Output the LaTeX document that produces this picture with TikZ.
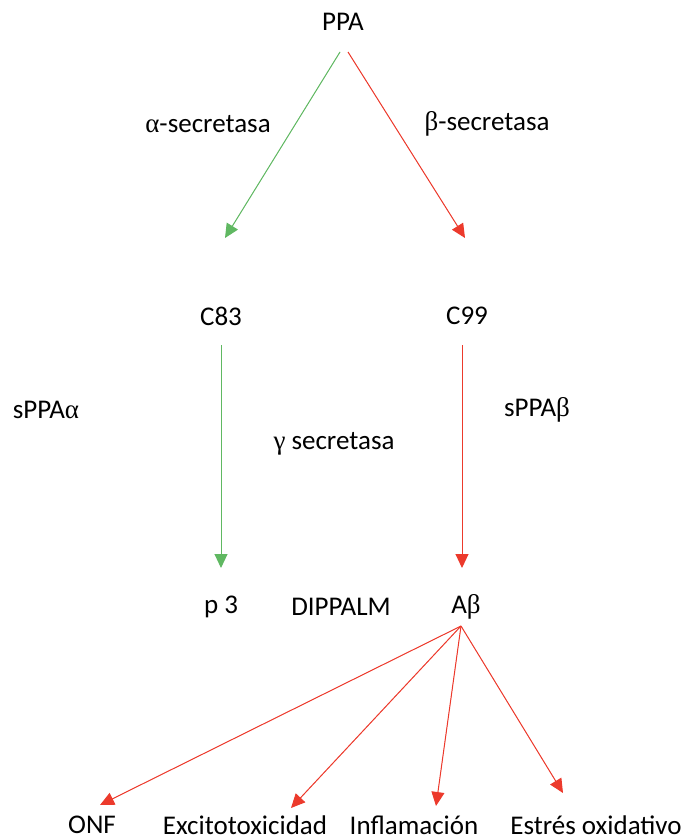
\documentclass[tikz,border=0pt]{standalone}
\usepackage{fontspec}
\setmainfont{Carlito}
\newfontfamily\grk{Liberation Serif}
\usetikzlibrary{arrows.meta}
\definecolor{pathgreen}{RGB}{96,184,98}
\definecolor{pathred}{RGB}{236,58,44}
\newcommand{\galpha}{{\grk α}}
\newcommand{\gbeta}{{\grk β}}
\newcommand{\ggamma}{{\grk γ}}
\tikzset{
  lbl/.style={inner sep=0pt, font=\fontsize{13.5}{16}\selectfont},
  grnarrow/.style={draw=pathgreen, line width=0.5pt, -{Triangle[length=7pt,width=6.5pt]}, fill=pathgreen},
  redarrow/.style={draw=pathred, line width=0.5pt, -{Triangle[length=7pt,width=6.5pt]}, fill=pathred}
}
\begin{document}
\begin{tikzpicture}[x=0.5pt,y=-0.5pt]
            \useasboundingbox (0,0) rectangle (684,840);
            \node[lbl] (ppa) at (343,22){PPA};
            \node[lbl] (asec) at (208,124){\galpha-secretasa};
            \node[lbl] (bsec) at (487,124){\gbeta-secretasa};
            \node[lbl] (c83) at (221,316){C83};
            \node[lbl] (c99) at (467,316){C99};
            \node[lbl] (sppaa) at (46,410){sPPA\galpha};
            \node[lbl] (sppab) at (537,410){sPPA\gbeta};
            \node[lbl] (gsec) at (334,444){\ggamma{} secretasa};
            \node[lbl] (p3) at (221,607){p 3};
            \node[lbl] (dippalm) at (341,607){DIPPALM};
            \node[lbl] (ab) at (466,607){A\gbeta};
            \node[lbl] (onf) at (92,825){ONF};
            \node[lbl] (excito) at (245,825){Excitotoxicidad};
            \node[lbl] (infl) at (414,825){Inflamación};
            \node[lbl] (estres) at (596,825){Estrés oxidativo};

            % arrow ends
            \coordinate (ppaL) at (340,52);
            \coordinate (ppaR) at (348,52);
            \coordinate (c83top) at (225,238);
            \coordinate (c99top) at (465,238);
            \coordinate (c83foot) at (221,345);
            \coordinate (c99foot) at (462,345);
            \coordinate (p3top) at (221,568);
            \coordinate (abtop) at (462,568);
            \coordinate (abfoot) at (461,626);
            \coordinate (onftop) at (100,805);
            \coordinate (excitotop) at (291,808);
            \coordinate (infltop) at (436,806);
            \coordinate (estrestop) at (563,793);

            \draw[grnarrow] (ppaL) -- (c83top);
            \draw[redarrow] (ppaR) -- (c99top);
            \draw[grnarrow] (c83foot) -- (p3top);
            \draw[redarrow] (c99foot) -- (abtop);
            \draw[redarrow] (abfoot) -- (onftop);
            \draw[redarrow] (abfoot) -- (excitotop);
            \draw[redarrow] (abfoot) -- (infltop);
            \draw[redarrow] (abfoot) -- (estrestop);
        \end{tikzpicture}
\end{document}
